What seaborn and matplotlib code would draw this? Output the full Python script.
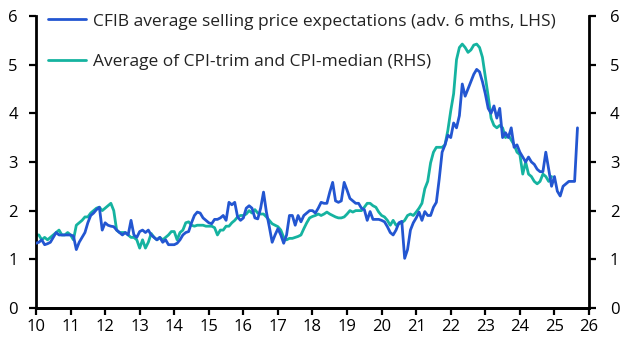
import numpy as np
import pandas as pd
import matplotlib
matplotlib.use("Agg")
import matplotlib.pyplot as plt
import seaborn as sns

# CFIB average selling price expectations (monthly, Jan 2010 - Sep 2025)
cfib_2010 = [1.33, 1.35, 1.40, 1.30, 1.32, 1.35, 1.45, 1.55, 1.50, 1.50, 1.50, 1.50]
cfib_2011 = [1.50, 1.48, 1.20, 1.35, 1.45, 1.55, 1.75, 1.90, 1.95, 2.02, 2.07, 1.60]
cfib_2012 = [1.75, 1.70, 1.68, 1.67, 1.60, 1.55, 1.50, 1.55, 1.50, 1.80, 1.50, 1.45]
cfib_2013 = [1.57, 1.60, 1.55, 1.60, 1.50, 1.45, 1.40, 1.45, 1.35, 1.40, 1.30, 1.30]
cfib_2014 = [1.30, 1.33, 1.40, 1.50, 1.55, 1.57, 1.75, 1.90, 1.97, 1.95, 1.85, 1.80]
cfib_2015 = [1.75, 1.73, 1.82, 1.82, 1.85, 1.90, 1.80, 2.17, 2.12, 2.17, 1.87, 1.80]
cfib_2016 = [1.85, 2.05, 2.10, 2.05, 1.85, 1.83, 2.05, 2.38, 1.97, 1.67, 1.35, 1.50]
cfib_2017 = [1.63, 1.50, 1.33, 1.50, 1.90, 1.90, 1.70, 1.90, 1.77, 1.90, 1.95, 2.00]
cfib_2018 = [2.00, 1.95, 2.05, 2.17, 2.15, 2.15, 2.38, 2.58, 2.20, 2.17, 2.20, 2.58]
cfib_2019 = [2.42, 2.25, 2.20, 2.15, 2.15, 2.05, 2.02, 1.80, 1.98, 1.82, 1.82, 1.82]
cfib_2020 = [1.80, 1.77, 1.67, 1.55, 1.50, 1.60, 1.75, 1.78, 1.02, 1.20, 1.60, 1.75]
cfib_2021 = [1.85, 1.97, 1.80, 1.98, 1.90, 1.90, 2.07, 2.17, 2.65, 3.20, 3.35, 3.55]
cfib_2022 = [3.50, 3.80, 3.70, 3.95, 4.60, 4.35, 4.50, 4.65, 4.80, 4.90, 4.85, 4.65]
cfib_2023 = [4.40, 4.10, 4.00, 4.15, 3.90, 4.10, 3.50, 3.60, 3.50, 3.70, 3.30, 3.35]
cfib_2024 = [3.20, 3.10, 3.00, 3.10, 3.00, 2.95, 2.85, 2.80, 2.80, 3.20, 2.85, 2.50]
cfib_2025 = [2.70, 2.40, 2.30, 2.50, 2.55, 2.60, 2.60, 2.60, 3.70]

# Average of CPI-trim and CPI-median (monthly, Jan 2010 - Dec 2024)
cpi_2010 = [1.50, 1.50, 1.40, 1.45, 1.40, 1.45, 1.50, 1.55, 1.60, 1.50, 1.50, 1.55]
cpi_2011 = [1.50, 1.40, 1.70, 1.75, 1.80, 1.87, 1.87, 1.95, 2.00, 2.05, 2.07, 2.00]
cpi_2012 = [2.05, 2.10, 2.15, 2.00, 1.60, 1.55, 1.55, 1.55, 1.50, 1.45, 1.45, 1.40]
cpi_2013 = [1.23, 1.40, 1.23, 1.35, 1.53, 1.45, 1.40, 1.45, 1.40, 1.45, 1.50, 1.57]
cpi_2014 = [1.57, 1.40, 1.55, 1.60, 1.75, 1.77, 1.70, 1.68, 1.70, 1.70, 1.70, 1.68]
cpi_2015 = [1.68, 1.68, 1.65, 1.50, 1.60, 1.60, 1.68, 1.68, 1.75, 1.80, 1.87, 1.90]
cpi_2016 = [1.90, 1.93, 2.00, 1.95, 2.02, 1.95, 1.93, 1.93, 1.87, 1.80, 1.73, 1.70]
cpi_2017 = [1.67, 1.60, 1.45, 1.40, 1.43, 1.43, 1.45, 1.47, 1.50, 1.63, 1.75, 1.85]
cpi_2018 = [1.88, 1.90, 1.93, 1.90, 1.93, 1.97, 1.93, 1.90, 1.87, 1.85, 1.85, 1.87]
cpi_2019 = [1.93, 2.00, 1.97, 2.00, 2.00, 2.00, 2.07, 2.15, 2.15, 2.10, 2.07, 1.97]
cpi_2020 = [1.90, 1.87, 1.80, 1.70, 1.80, 1.70, 1.73, 1.75, 1.80, 1.90, 1.93, 1.90]
cpi_2021 = [1.97, 2.05, 2.15, 2.45, 2.60, 2.98, 3.20, 3.30, 3.30, 3.30, 3.35, 3.65]
cpi_2022 = [4.05, 4.40, 5.10, 5.35, 5.42, 5.35, 5.25, 5.30, 5.40, 5.42, 5.35, 5.15]
cpi_2023 = [4.75, 4.35, 3.90, 3.75, 3.70, 3.75, 3.70, 3.50, 3.55, 3.45, 3.35, 3.20]
cpi_2024 = [3.15, 2.75, 3.00, 2.75, 2.70, 2.60, 2.55, 2.60, 2.75, 2.70, 2.60, 2.70]

label_cfib = "CFIB average selling price expectations (adv. 6 mths, LHS)"
label_cpi = "Average of CPI-trim and CPI-median (RHS)"
x_ticks = list(range(10, 27))
y_ticks = [0, 1, 2, 3, 4, 5, 6]

cfib = sum([cfib_2010, cfib_2011, cfib_2012, cfib_2013, cfib_2014, cfib_2015,
            cfib_2016, cfib_2017, cfib_2018, cfib_2019, cfib_2020, cfib_2021,
            cfib_2022, cfib_2023, cfib_2024, cfib_2025], [])
cpi = sum([cpi_2010, cpi_2011, cpi_2012, cpi_2013, cpi_2014, cpi_2015,
           cpi_2016, cpi_2017, cpi_2018, cpi_2019, cpi_2020, cpi_2021,
           cpi_2022, cpi_2023, cpi_2024], [])

df_cfib = pd.DataFrame({"t": 10 + np.arange(len(cfib)) / 12.0, "v": cfib})
df_cpi = pd.DataFrame({"t": 10 + np.arange(len(cpi)) / 12.0, "v": cpi})

sns.set_theme(style="white")
plt.rcParams["font.family"] = ["Open Sans", "DejaVu Sans"]

BLUE = "#2356D1"
TEAL = "#15B3A0"

fig = plt.figure(figsize=(6.28, 3.52), dpi=100)
ax = fig.add_axes([0.0573, 0.125, 0.8806, 0.83])
ax2 = ax.twinx()

sns.lineplot(data=df_cfib, x="t", y="v", ax=ax, color=BLUE, linewidth=2.0,
             label=label_cfib, legend=False, zorder=3)
sns.lineplot(data=df_cpi, x="t", y="v", ax=ax2, color=TEAL, linewidth=2.0,
             label=label_cpi, legend=False, zorder=2)
ax.set_zorder(ax2.get_zorder() + 1)
ax.patch.set_visible(False)

for a in (ax, ax2):
    a.set_xlim(10, 26)
    a.set_ylim(0, 6)
    a.set_yticks(y_ticks)
    a.set_xlabel("")
    a.set_ylabel("")
    a.spines["top"].set_visible(False)
    for s in ("left", "right", "bottom"):
        a.spines[s].set_linewidth(2.0)
        a.spines[s].set_color("black")
ax.set_xticks(x_ticks)
ax.set_xticklabels([str(v) for v in x_ticks])
ax.tick_params(axis="both", which="both", direction="out", length=5, width=1.6,
               labelsize=12, colors="black", left=True, bottom=True, pad=3)
ax.tick_params(axis="y", pad=8)
ax2.tick_params(axis="y", direction="out", length=5, width=1.6, labelsize=12,
                colors="black", right=True, pad=10)
ax2.spines["left"].set_visible(False)
ax.spines["right"].set_visible(False)

h1, l1 = ax.get_legend_handles_labels()
h2, l2 = ax2.get_legend_handles_labels()
leg = ax.legend(h1 + h2, l1 + l2, loc="upper left", bbox_to_anchor=(0.0, 1.05),
                frameon=False, fontsize=12.5, handlelength=2.2, handletextpad=0.4,
                labelspacing=1.4, borderaxespad=0.3)
for t in leg.get_texts():
    t.set_color("#222222")

fig.savefig("out.png", dpi=100)
